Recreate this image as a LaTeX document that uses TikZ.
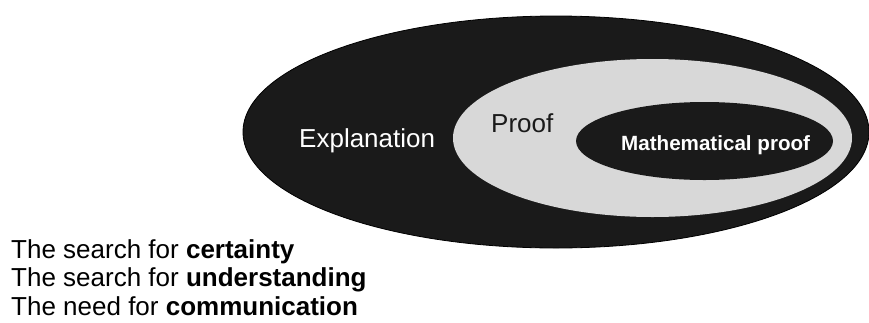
\documentclass[tikz,border=0pt]{standalone}
\usepackage{fontspec}
\setmainfont{Liberation Sans}
\usetikzlibrary{shapes.geometric}
\definecolor{darkfill}{HTML}{1A1A1A}
\definecolor{lightfill}{HTML}{D8D8D8}
\begin{document}
\begin{tikzpicture}[x=1pt,y=-1pt,
  region/.style={ellipse, inner sep=0pt, outer sep=0pt},
  lbl/.style={inner sep=0pt, anchor=base west, font=\fontsize{26}{30}\selectfont},
  line/.style={inner sep=0pt, anchor=base west, font=\fontsize{26}{30}\selectfont}]
\useasboundingbox (0,0) rectangle (869,322);
\node[region, fill=darkfill, draw=black, line width=0.8pt, minimum width=626pt, minimum height=232pt] (expl) at (556,132) {};
\node[region, fill=lightfill, minimum width=399pt, minimum height=158pt] (proof) at (652.5,138) {};
\node[region, fill=darkfill, minimum width=257pt, minimum height=78pt] (math) at (704.5,141) {};
\node[lbl, text=white] (texpl) at (299,147) {Explanation};
\node[lbl, text=darkfill] (tproof) at (491,132) {Proof};
\node[inner sep=0pt, anchor=base west, text=white, font=\fontsize{20.6}{24}\selectfont\bfseries] (tmath) at (621,150) {Mathematical proof};
\node[line] (l1) at (11,258) {The search for \textbf{certainty}};
\node[line] (l2) at (11,286.5) {The search for \textbf{understanding}};
\node[line] (l3) at (11,315) {The need for \textbf{communication}};
\end{tikzpicture}
\end{document}
